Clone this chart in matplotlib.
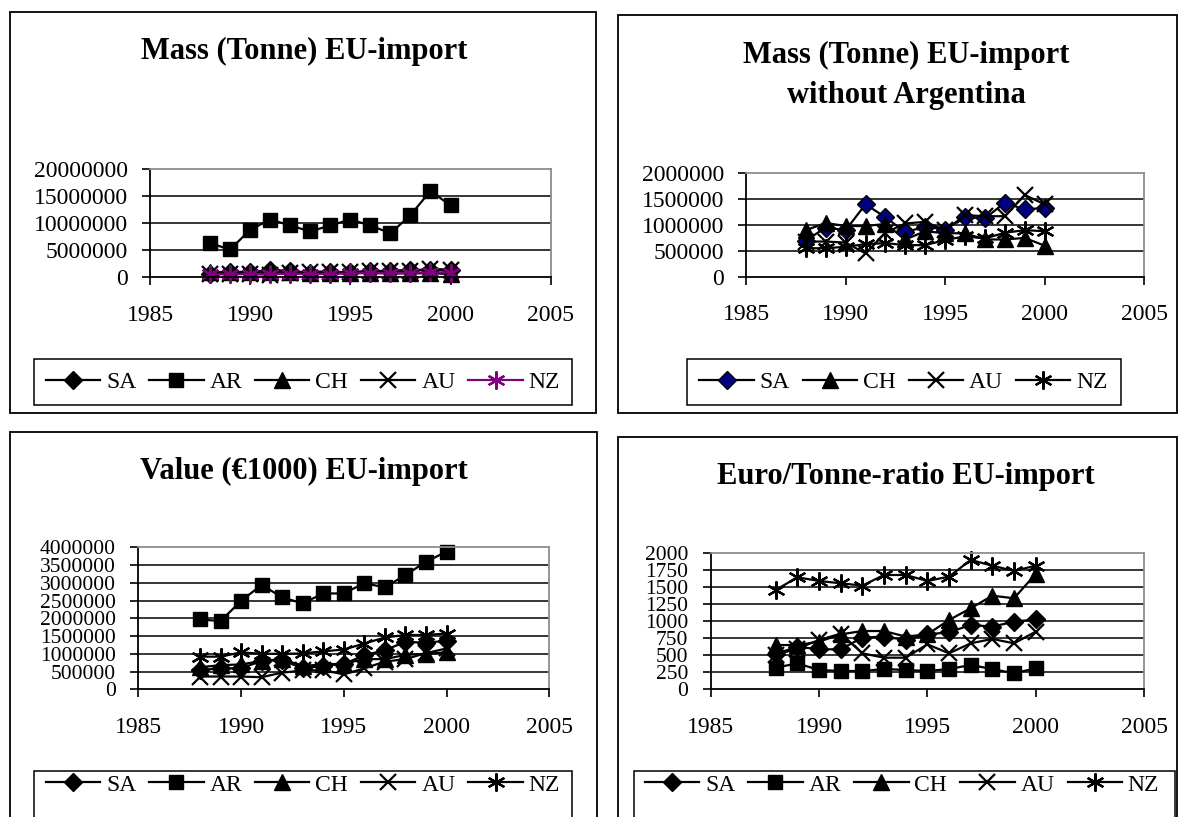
import numpy as np
import matplotlib
matplotlib.use("Agg")
import matplotlib.pyplot as plt
from matplotlib.patches import Rectangle
from matplotlib.ticker import FuncFormatter

plt.rcParams["font.family"] = ["Liberation Serif", "DejaVu Serif"]

# EU imports by supplier, 1988-2000
years = list(range(1988, 2001))
countries = ["SA", "AR", "CH", "AU", "NZ"]

# Mass, tonnes
mass_sa = [700000, 950000, 900000, 1400000, 1150000, 860000, 970000, 910000, 1150000, 1130000, 1430000, 1300000, 1330000]
mass_ar = [6300000, 5150000, 8800000, 10700000, 9600000, 8500000, 9600000, 10700000, 9600000, 8150000, 11500000, 16000000, 13300000]
mass_ch = [900000, 1040000, 980000, 980000, 1020000, 720000, 880000, 840000, 840000, 720000, 720000, 750000, 600000]
mass_au = [680000, 680000, 660000, 450000, 850000, 1030000, 1060000, 900000, 1190000, 1170000, 1170000, 1580000, 1400000]
mass_nz = [550000, 550000, 580000, 630000, 650000, 610000, 610000, 710000, 780000, 740000, 850000, 900000, 880000]

# Value, EUR 1000
value_sa = [540000, 590000, 590000, 800000, 820000, 590000, 660000, 710000, 960000, 1100000, 1340000, 1310000, 1370000]
value_ar = [1970000, 1920000, 2490000, 2940000, 2590000, 2420000, 2700000, 2700000, 2990000, 2870000, 3220000, 3590000, 3880000]
value_ch = [620000, 680000, 700000, 800000, 850000, 660000, 700000, 720000, 850000, 850000, 970000, 1000000, 1040000]
value_au = [360000, 360000, 360000, 340000, 470000, 530000, 540000, 420000, 590000, 780000, 850000, 1020000, 1150000]
value_nz = [920000, 920000, 1040000, 1000000, 1000000, 1010000, 1070000, 1120000, 1290000, 1460000, 1530000, 1530000, 1570000]

# Euro per tonne
ratio_sa = [520, 626, 588, 588, 760, 775, 725, 808, 838, 946, 922, 994, 1029]
ratio_ar = [318, 381, 284, 269, 269, 298, 284, 269, 298, 357, 298, 235, 309]
ratio_ch = [651, 651, 700, 808, 857, 857, 775, 808, 1019, 1191, 1377, 1338, 1696]
ratio_au = [504, 600, 725, 818, 529, 465, 465, 661, 529, 676, 740, 676, 847]
ratio_nz = [1460, 1647, 1593, 1559, 1525, 1681, 1681, 1593, 1657, 1902, 1818, 1740, 1818]

W, H = 1178, 817
fig = plt.figure(figsize=(W / 100, H / 100), dpi=100)
fig.patch.set_facecolor("white")

TICK_FS = 17
TITLE_FS = 22


def fx(x):
    return x / W


def fy(y):
    return 1 - y / H


def box(left, top, right, bottom, lw=1.3):
    fig.patches.append(Rectangle((fx(left), fy(bottom)), fx(right) - fx(left), fy(top) - fy(bottom),
                                 transform=fig.transFigure, fill=False, ec="black", lw=lw))


styles = {
    "SA": dict(marker="D", ms=9, mfc="black"),
    "AR": dict(marker="s", ms=10, mfc="black"),
    "CH": dict(marker="^", ms=11, mfc="black"),
    "AU": dict(marker="x", ms=11, mew=1.6),
    "NZ": dict(marker=(6, 2, 0), ms=13, mew=1.6),
}


def panel(rect, ymax, ystep, series, legend_center, colors=None, sa_face="black", ytick_fs=TICK_FS):
    left, top, right, bottom = rect
    ax = fig.add_axes([fx(left), fy(bottom), fx(right) - fx(left), fy(top) - fy(bottom)])
    for name, vals in series:
        st = dict(styles[name])
        col = (colors or {}).get(name, "black")
        if name == "SA":
            st["mfc"] = sa_face
        elif "mfc" in st:
            st["mfc"] = col
        ax.plot(years, vals, color=col, lw=1.6, mec=col, label=name, clip_on=False, **st)
    ax.set_xlim(1985, 2005)
    ax.set_ylim(0, ymax)
    ax.set_xticks(range(1985, 2006, 5))
    yt = np.arange(0, ymax + ystep / 2, ystep)
    ax.set_yticks(yt)
    for v in yt[1:-1]:
        ax.axhline(v, color="black", lw=1.1, zorder=0.5)
    ax.yaxis.set_major_formatter(FuncFormatter(lambda v, p: f"{v:.0f}"))
    for s in ("top", "right"):
        ax.spines[s].set_color("#8c8c8c")
        ax.spines[s].set_linewidth(1.3)
    for s in ("left", "bottom"):
        ax.spines[s].set_linewidth(1.3)
    ax.tick_params(axis="x", direction="out", length=6, width=1.2, pad=14, labelsize=TICK_FS)
    ax.tick_params(axis="y", direction="out", length=6, width=1.2, pad=10, labelsize=ytick_fs)
    ax.legend(loc="center", bbox_to_anchor=(fx(legend_center[0]), fy(legend_center[1])),
              bbox_transform=fig.transFigure, ncol=len(series), frameon=False,
              fontsize=TICK_FS, handlelength=2.3, handletextpad=0.25, columnspacing=0.55,
              numpoints=1, borderpad=0, borderaxespad=0)
    return ax


# Mass, all suppliers
box(10, 12, 596, 413)
fig.text(fx(304), fy(59), "Mass (Tonne) EU-import", ha="center", va="baseline",
         fontsize=TITLE_FS, fontweight="bold")
panel((150, 169.3, 550.7, 277.3), 20000000, 5000000,
      list(zip(countries, [mass_sa, mass_ar, mass_ch, mass_au, mass_nz])),
      (302.9, 382.2), colors={"NZ": "#800080"})
box(34, 359.3, 571.7, 405, lw=1.1)

# Mass without Argentina
box(618, 15, 1176.5, 413)
fig.text(fx(906), fy(63), "Mass (Tonne) EU-import", ha="center", va="baseline",
         fontsize=TITLE_FS, fontweight="bold")
fig.text(fx(906), fy(103), "without Argentina", ha="center", va="baseline",
         fontsize=TITLE_FS, fontweight="bold")
panel((746.1, 173.3, 1144.2, 276.7), 2000000, 500000,
      list(zip(["SA", "CH", "AU", "NZ"], [mass_sa, mass_ch, mass_au, mass_nz])),
      (903.6, 382.2), sa_face="#000080")
box(686.7, 359.3, 1120.5, 405, lw=1.1)

# Value
box(10, 432, 597, 840)
fig.text(fx(304), fy(479), "Value (\u20ac1000) EU-import", ha="center", va="baseline",
         fontsize=TITLE_FS, fontweight="bold")
panel((138.3, 547.3, 549.3, 689.3), 4000000, 500000,
      list(zip(countries, [value_sa, value_ar, value_ch, value_au, value_nz])),
      (302.9, 785), ytick_fs=15.5)
box(34, 770.7, 572, 840, lw=1.1)

# Euro per tonne
box(618, 437, 1176.5, 840)
fig.text(fx(906), fy(484), "Euro/Tonne-ratio EU-import", ha="center", va="baseline",
         fontsize=TITLE_FS, fontweight="bold")
panel((710.7, 553.3, 1144, 689.3), 2000, 250,
      list(zip(countries, [ratio_sa, ratio_ar, ratio_ch, ratio_au, ratio_nz])),
      (902, 785), ytick_fs=15.5)
box(634.3, 770.7, 1175, 840, lw=1.1)

fig.savefig("out.png", dpi=100)
